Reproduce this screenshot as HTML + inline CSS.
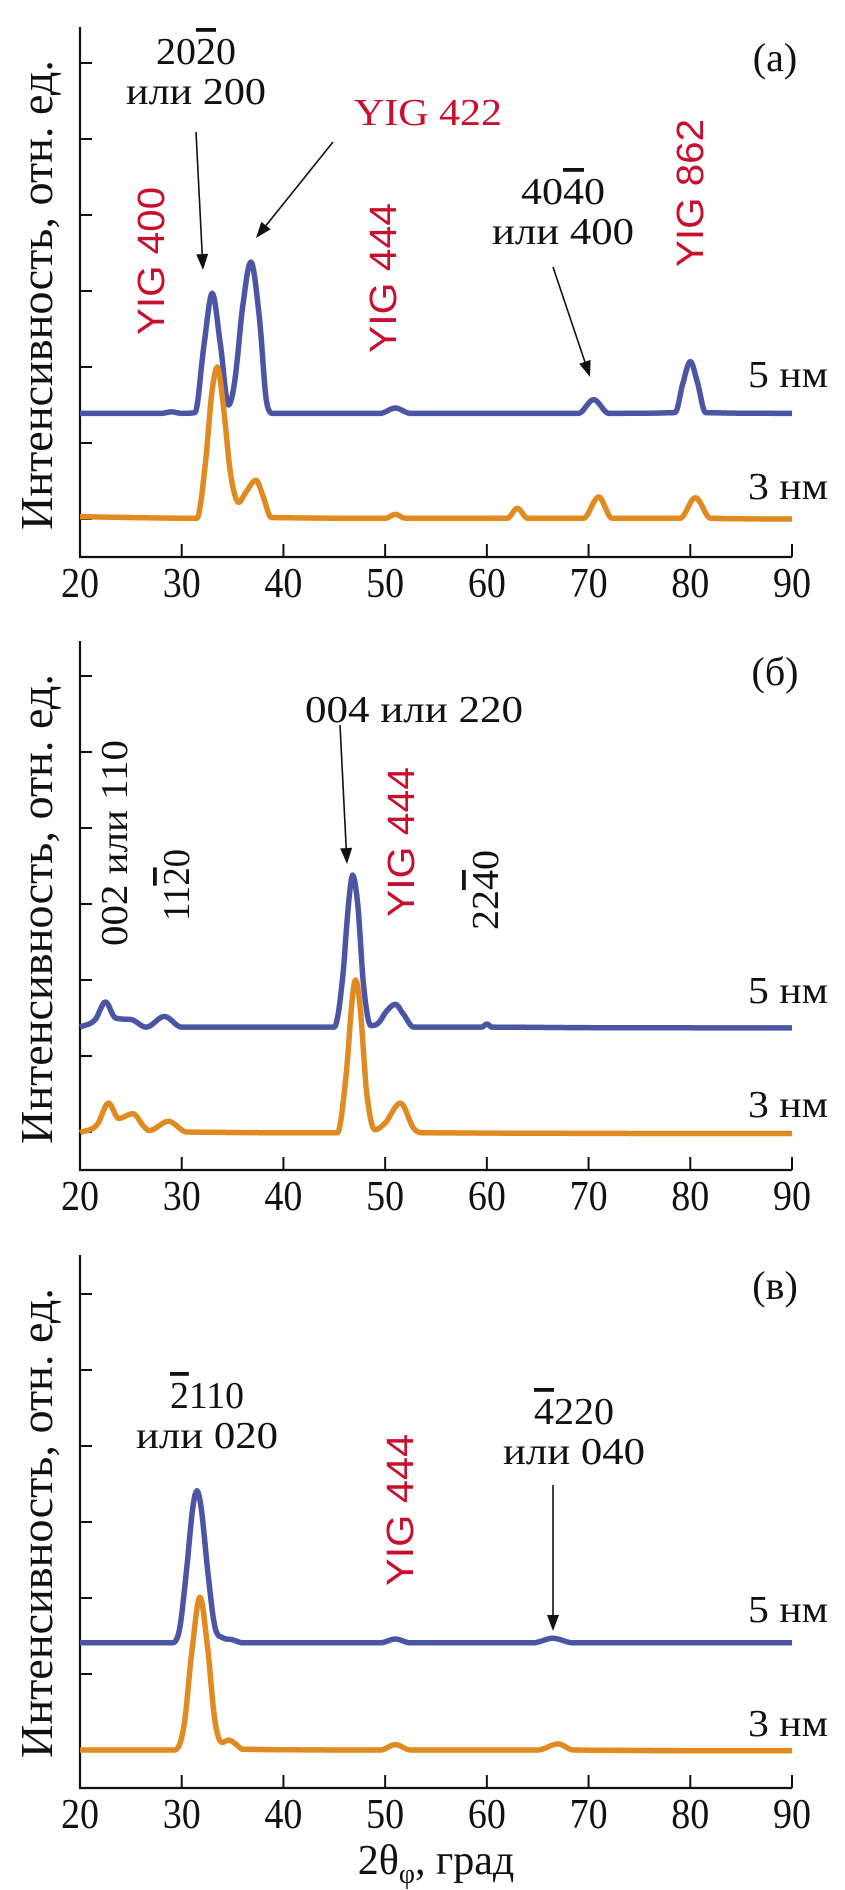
<!DOCTYPE html>
<html><head><meta charset="utf-8">
<style>
html,body{margin:0;padding:0;background:#fff;}
svg{display:block;}
text{font-family:"Liberation Serif","DejaVu Serif",serif;fill:#111;}
.red{fill:#c8102e;}
.reds{fill:#c8102e;font-family:"Liberation Sans","DejaVu Sans",sans-serif;}
.ov{text-decoration:overline;}
</style></head>
<body>
<svg id="chart" width="845" height="1890" viewBox="0 0 845 1890" xmlns="http://www.w3.org/2000/svg">
<g id="root"></g>
</svg>
<script>
// ---- data ----
const xTicks = [20,30,40,50,60,70,80,90];
const yTicks = [0.5,1.5,2.5,3.5,4.5,5.5,6.5];
// panel (a)
const a5x = [20,28,29,30,31.3,32.2,33,33.8,34.6,35.2,36,36.8,37.6,38.4,39,49.5,51,52.5,69,70.5,72,78.5,79.3,80,80.7,81.5,90];
const a5y = [1.89,1.89,1.91,1.89,1.9,2.8,3.47,2.8,2.0,2.3,3.3,3.88,3.2,2.0,1.89,1.89,1.96,1.89,1.89,2.07,1.89,1.9,2.3,2.57,2.3,1.9,1.89];
const a3x = [20,31.5,32.3,33,33.5,34,34.8,35.6,36.3,37.3,38,38.8,50,51,52,62,63,64,69.5,71,72.3,79,80.5,82,90];
const a3y = [0.53,0.51,1.2,2.2,2.5,2.1,1.1,0.72,0.85,1.01,0.8,0.52,0.51,0.56,0.51,0.51,0.64,0.51,0.51,0.79,0.51,0.51,0.78,0.51,0.5];
// panel (b)
const b5x = [20,21.5,22.5,23.5,25,26.5,28.3,30,45,45.8,46.4,46.8,47.3,47.9,48.6,49.3,50.2,51,51.8,52.8,59.5,60,60.5,90];
const b5y = [1.88,1.98,2.21,2.0,1.98,1.88,2.02,1.88,1.88,2.5,3.5,3.88,3.5,2.4,1.9,1.93,2.1,2.18,2.05,1.88,1.88,1.92,1.88,1.87];
const b3x = [20,21.7,22.8,23.8,25.2,26.3,26.8,28.7,30.5,45.3,46.2,46.8,47.1,47.5,48.2,49,50,51.5,52.8,53.6,90];
const b3y = [0.49,0.6,0.88,0.68,0.74,0.57,0.52,0.64,0.5,0.49,1.3,2.3,2.5,2.2,1.0,0.53,0.62,0.88,0.55,0.49,0.48];
// panel (c)
const c5x = [20,29,29.8,30.5,31.1,31.5,31.9,32.6,33.3,34,35,36,49.5,51,52.5,64.5,66.5,68.5,90];
const c5y = [1.91,1.91,2.1,2.9,3.7,3.91,3.7,2.8,2.1,1.98,1.95,1.91,1.91,1.96,1.91,1.91,1.97,1.91,1.91];
const c3x = [20,29.3,30.2,31,31.8,32.5,33.3,34,34.6,35.3,36,49.5,51,52.5,65,67,68.5,90];
const c3y = [0.5,0.5,0.8,1.8,2.51,1.9,0.85,0.6,0.63,0.58,0.51,0.5,0.57,0.5,0.5,0.58,0.5,0.49];

const NS = "http://www.w3.org/2000/svg";
const root = document.getElementById('root');
const X0 = 80, X1 = 792;
function sx(v){ return X0 + (v-20)/(90-20)*(X1-X0); }
function mk(tag, attrs, parent){
  const e = document.createElementNS(NS, tag);
  for (const k in attrs) e.setAttribute(k, attrs[k]);
  (parent||root).appendChild(e);
  return e;
}
function txt(s, attrs, parent){ const e = mk('text', attrs, parent); e.textContent = s; return e; }

function curvePath(xs, ys, sy){
  const n = xs.length, d = [], m = [];
  for (let i=0;i<n-1;i++) d.push((ys[i+1]-ys[i])/(xs[i+1]-xs[i]));
  m[0]=d[0]; m[n-1]=d[n-2];
  for (let i=1;i<n-1;i++){ m[i] = (d[i-1]*d[i] <= 0) ? 0 : (d[i-1]+d[i])/2; }
  for (let i=0;i<n-1;i++){
    if (d[i]===0){ m[i]=0; m[i+1]=0; continue; }
    const a=m[i]/d[i], b=m[i+1]/d[i], s=a*a+b*b;
    if (s>9){ const t=3/Math.sqrt(s); m[i]=t*a*d[i]; m[i+1]=t*b*d[i]; }
  }
  let p = 'M'+sx(xs[0]).toFixed(1)+','+sy(ys[0]).toFixed(1);
  for (let i=0;i<n-1;i++){
    const h = xs[i+1]-xs[i];
    const steps = Math.max(2, Math.ceil(h/0.1));
    for (let k=1;k<=steps;k++){
      const t=k/steps, t2=t*t, t3=t2*t;
      const v = (2*t3-3*t2+1)*ys[i] + (t3-2*t2+t)*h*m[i] + (-2*t3+3*t2)*ys[i+1] + (t3-t2)*h*m[i+1];
      p += ' L'+sx(xs[i]+t*h).toFixed(1)+','+sy(v).toFixed(1);
    }
  }
  return p;
}

function panel(id, top, bottom, s5, s3, tag){
  const g = mk('g', {});
  
  
  const sy = v => bottom - v*76;
  const ax = mk('path', {d:'M'+X0+','+top+' V'+bottom+' H'+X1, fill:'none', stroke:'#111', 'stroke-width':2.2}, g);
  
  
  xTicks.forEach(t=>{
    const tk = mk('line', {x1:sx(t), x2:sx(t), y1:bottom, y2:bottom-13, stroke:'#111', 'stroke-width':2}, g);
    
    
    const tl = txt(String(t), {x:sx(t), y:bottom+40, 'font-size':42, 'text-anchor':'middle', textLength:38, lengthAdjust:'spacingAndGlyphs'}, g);
    
    
  });
  yTicks.forEach(t=>{
    const tk = mk('line', {x1:X0, x2:X0+12, y1:sy(t), y2:sy(t), stroke:'#111', 'stroke-width':2}, g);
    
    
  });
  const cy = top + 268;
  const yl = txt('Интенсивность, отн. ед.', {x:0, y:0, 'font-size':46, 'text-anchor':'middle', textLength:470, lengthAdjust:'spacingAndGlyphs', transform:'translate(52,'+cy+') rotate(-90)'}, g);
  
  
  const l5 = mk('path', {d:curvePath(s5[0], s5[1], sy), fill:'none', stroke:'#4b55a3', 'stroke-width':5.5, 'stroke-linejoin':'round'}, g);
  
  
  const l3 = mk('path', {d:curvePath(s3[0], s3[1], sy), fill:'none', stroke:'#e08b22', 'stroke-width':5.5, 'stroke-linejoin':'round'}, g);
  
  
  const pl = txt(tag, {x:775, y:top+44, 'font-size':40, 'text-anchor':'middle'}, g);
  
  
  return {g, sy};
}

const A = panel('a', 27, 557, [a5x,a5y], [a3x,a3y], '(a)');
const B = panel('b', 641, 1170, [b5x,b5y], [b3x,b3y], '(б)');
const C = panel('c', 1255, 1788, [c5x,c5y], [c3x,c3y], '(в)');

function fill(e, parts){
  parts.forEach(p=>{
    const t = mk('tspan', {}, e);
    if (p[1]) t.setAttribute('class','ov');
    t.textContent = p[0];
  });
}
function label(parts, x, y, name, len, cls){
  const e = mk('text', {x:x, y:y, 'font-size':38, 'text-anchor':'middle', textLength:len, lengthAdjust:'spacingAndGlyphs'});
  if (cls) e.setAttribute('class', cls);
  fill(e, parts);
  
  
  return e;
}
function rlabel(parts, x, y, name, cls, len){
  const e = mk('text', {x:0, y:0, 'font-size':38, 'text-anchor':'middle', 'dominant-baseline':'central', transform:'translate('+x+','+y+') rotate(-90)', textLength:len, lengthAdjust:'spacingAndGlyphs'});
  if (cls) e.setAttribute('class', cls);
  fill(e, parts);
  
  
  return e;
}
function arrow(x1,y1,x2,y2,name){
  const g = mk('g', {});
  
  
  const a = Math.atan2(y2-y1, x2-x1), L=16, W=6;
  const bx = x2 - L*Math.cos(a), by = y2 - L*Math.sin(a);
  mk('line', {x1:x1,y1:y1,x2:bx,y2:by,stroke:'#111','stroke-width':1.6}, g);
  mk('polygon', {points: x2+','+y2+' '+(bx+W*Math.sin(a))+','+(by-W*Math.cos(a))+' '+(bx-W*Math.sin(a))+','+(by+W*Math.cos(a)), fill:'#111'}, g);
}

[[373,485],[989,1103],[1608,1722]].forEach(r=>{
  label([['5 нм']], 788, r[0]+14, 'label-5nm', 80);
  label([['3 нм']], 788, r[1]+14, 'label-3nm', 80);
});

// panel (a)
label([['20'],['2',1],['0']], 196, 64, 'peak-label-2020', 80);
label([['или 200']], 196, 104, 'peak-label-200', 140);
label([['YIG 422']], 428, 125, 'yig-422-label', 148, 'red');
arrow(196,132,203,270,'arrow-2020');
arrow(333,142,256,238,'arrow-yig422');
rlabel([['YIG 400']], 152, 261, 'yig-400-label', 'reds', 148);
rlabel([['YIG 444']], 384, 278, 'yig-444-label-a', 'reds', 150);
rlabel([['YIG 862']], 691, 193, 'yig-862-label', 'reds', 148);
label([['40'],['4',1],['0']], 563, 204, 'peak-label-4040', 84);
label([['или 400']], 563, 244, 'peak-label-400', 142);
arrow(553,267,590,377,'arrow-4040');

// panel (b)
label([['004 или 220']], 414, 722, 'peak-label-004', 218);
arrow(340,725,347,864,'arrow-004');
rlabel([['002 или 110']], 115, 843, 'peak-label-002', null, 206);
rlabel([['11'],['2',1],['0']], 177, 885, 'peak-label-1120', null, 72);
rlabel([['YIG 444']], 402, 842, 'yig-444-label-b', 'reds', 150);
rlabel([['22'],['4',1],['0']], 486, 890, 'peak-label-2240', null, 80);

// panel (c)
label([['2',1],['110']], 207, 1408, 'peak-label-2110', 74);
label([['или 020']], 207, 1448, 'peak-label-020', 142);
label([['4',1],['220']], 574, 1424, 'peak-label-4220', 80);
label([['или 040']], 574, 1464, 'peak-label-040', 142);
arrow(553,1485,553,1631,'arrow-4220');
rlabel([['YIG 444']], 401, 1510, 'yig-444-label-c', 'reds', 152);

const xt = txt('', {x:436, y:1874, 'font-size':42, 'text-anchor':'middle'});


const t1 = mk('tspan', {}, xt); t1.textContent = '2θ';
const t2 = mk('tspan', {'font-size':28, dy:9}, xt); t2.textContent = 'φ';
const t3 = mk('tspan', {dy:-9}, xt); t3.textContent = ', град';
</script>
</body></html>
